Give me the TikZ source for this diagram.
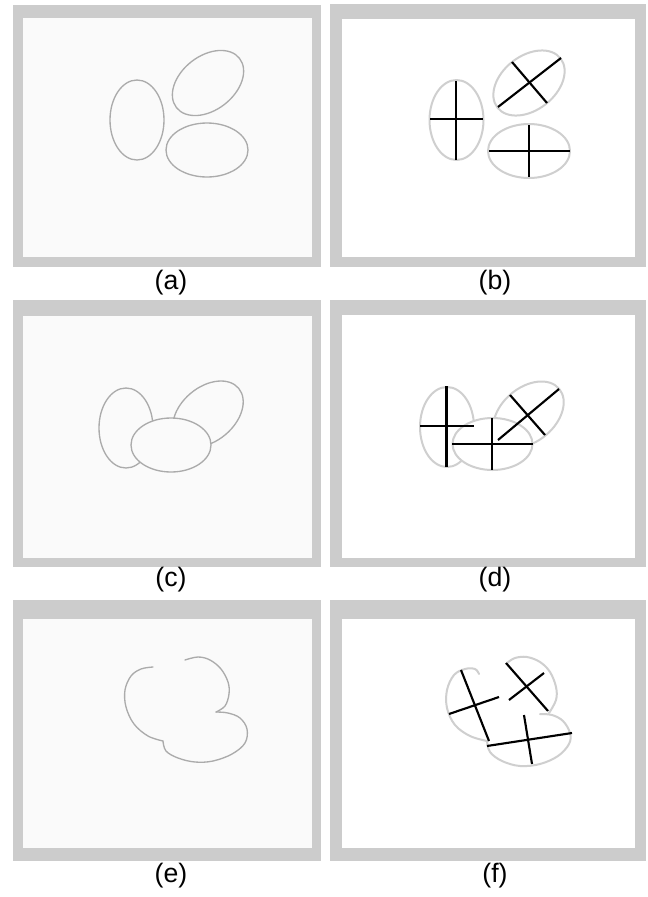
\documentclass[tikz,border=0pt]{standalone}
\usepackage{fontspec}
\setmainfont{Liberation Sans}
\definecolor{framegray}{HTML}{CCCCCC}
\definecolor{bgL}{HTML}{FAFAFA}
\definecolor{cellgray}{HTML}{ABABAB}
\definecolor{cellgrayR}{HTML}{CFCFCF}
\begin{document}
\begin{tikzpicture}[x=0.75pt,y=-0.75pt,
  frameout/.style={fill=framegray},
  innerL/.style={fill=bgL},
  innerR/.style={fill=white},
  cell/.style={draw=cellgray, line width=1.0pt, line join=round, line cap=round},
  cellR/.style={draw=cellgrayR, line width=1.5pt, line join=round, line cap=round},
  axisline/.style={draw=black, line width=1.6pt},
  lab/.style={font=\fontsize{20}{22}\selectfont, inner sep=0pt}]
\useasboundingbox[fill=white] (0,0) rectangle (647,897);

% ---------- frames ----------
\fill[frameout] (13,5) rectangle (321,267);   \fill[innerL] (23,18) rectangle (312,257);
\fill[frameout] (330,4) rectangle (646,267);  \fill[innerR] (342,19) rectangle (635,257);
\fill[frameout] (13,300) rectangle (321,567); \fill[innerL] (23,316) rectangle (312,558);
\fill[frameout] (330,300) rectangle (646,567);\fill[innerR] (342,315) rectangle (635,558);
\fill[frameout] (13,600) rectangle (321,861); \fill[innerL] (23,619) rectangle (312,848);
\fill[frameout] (330,600) rectangle (646,861);\fill[innerR] (342,619) rectangle (635,848);

% ---------- labels ----------
\node[lab] (la) at (171,283) {(a)};
\node[lab] (lb) at (495,283) {(b)};
\node[lab] (lc) at (171,580) {(c)};
\node[lab] (ld) at (495,580) {(d)};
\node[lab] (le) at (171,876) {(e)};
\node[lab] (lf) at (495,876) {(f)};

% ---------- (a) ----------
\draw[cell] (137,120) ellipse [x radius=27, y radius=40];
\draw[cell, rotate around={38:(208,83)}] (208,83) ellipse [x radius=40, y radius=27];
\draw[cell] (207,150) ellipse [x radius=41, y radius=27];

% ---------- (b) ----------
\draw[cellR] (456.5,120) ellipse [x radius=27, y radius=40];
\draw[cellR, rotate around={38:(529,83)}] (529,83) ellipse [x radius=40, y radius=27];
\draw[cellR] (529,151) ellipse [x radius=41, y radius=27];
\draw[axisline] (456,81) -- (456,160);
\draw[axisline] (430,119) -- (483,119);
\draw[axisline] (498,107) -- (561,58);
\draw[axisline] (512,62) -- (547,103);
\draw[axisline] (489,151) -- (570,151);
\draw[axisline] (529,125) -- (529,177);

% ---------- (c) ----------
\draw[cell] (126,428) ellipse [x radius=27, y radius=40];
\draw[cell, rotate around={40:(208,414)}] (208,414) ellipse [x radius=40, y radius=27];
\draw[cell, fill=bgL] (171,445) ellipse [x radius=40, y radius=27];

% ---------- (d) ----------
\draw[cellR] (447,427) ellipse [x radius=27, y radius=40];
\draw[cellR, rotate around={40:(528.5,414.5)}] (528.5,414.5) ellipse [x radius=40, y radius=27];
\draw[cellR, fill=white] (492.5,444) ellipse [x radius=40, y radius=26];
\draw[axisline] (446.5,386) -- (446.5,467);
\draw[axisline] (420,426) -- (474,426);
\draw[axisline] (452,444) -- (533,444);
\draw[axisline] (492,418) -- (492,470);
\draw[axisline] (498,440) -- (559,389);
\draw[axisline] (510,395) -- (545,435);

% ---------- (e) ----------
\draw[cell] plot[smooth, tension=0.6] coordinates {(153,667) (141,669) (131,676) (125,690) (126,707) (134,724) (148,736) (163,741)};
\draw[cell] plot[smooth, tension=0.6] coordinates {(163,741) (166,751) (178,758) (195,762) (213,761) (232,754) (245,743) (247,729) (240,718) (228,713) (216,712)};
\draw[cell] plot[smooth, tension=0.6] coordinates {(216,712) (225,706) (229,694) (228,682) (221,669) (210,660) (198,657) (185,660)};

% ---------- (f) ----------
\draw[cellR] plot[smooth, tension=0.6] coordinates {(479,674) (475,669) (465,669) (454,675) (447,690) (447,708) (455,725) (470,736) (487,741)};
\draw[cellR] plot[smooth, tension=0.6] coordinates {(487,741) (490,752) (502,761) (520,766) (540,764) (558,756) (569,744) (570,733) (563,721) (552,715) (540,714)};
\draw[cellR] plot[smooth, tension=0.6] coordinates {(549,713) (556,700) (556,687) (550,672) (540,662) (527,657) (515,658) (507,663)};
\draw[axisline] (461,670) -- (489,741);
\draw[axisline] (449,714) -- (499,697);
\draw[axisline] (506,663) -- (548,711);
\draw[axisline] (509,700) -- (544,673);
\draw[axisline] (487,746) -- (572,733);
\draw[axisline] (524,715) -- (532,764);
\end{tikzpicture}
\end{document}
